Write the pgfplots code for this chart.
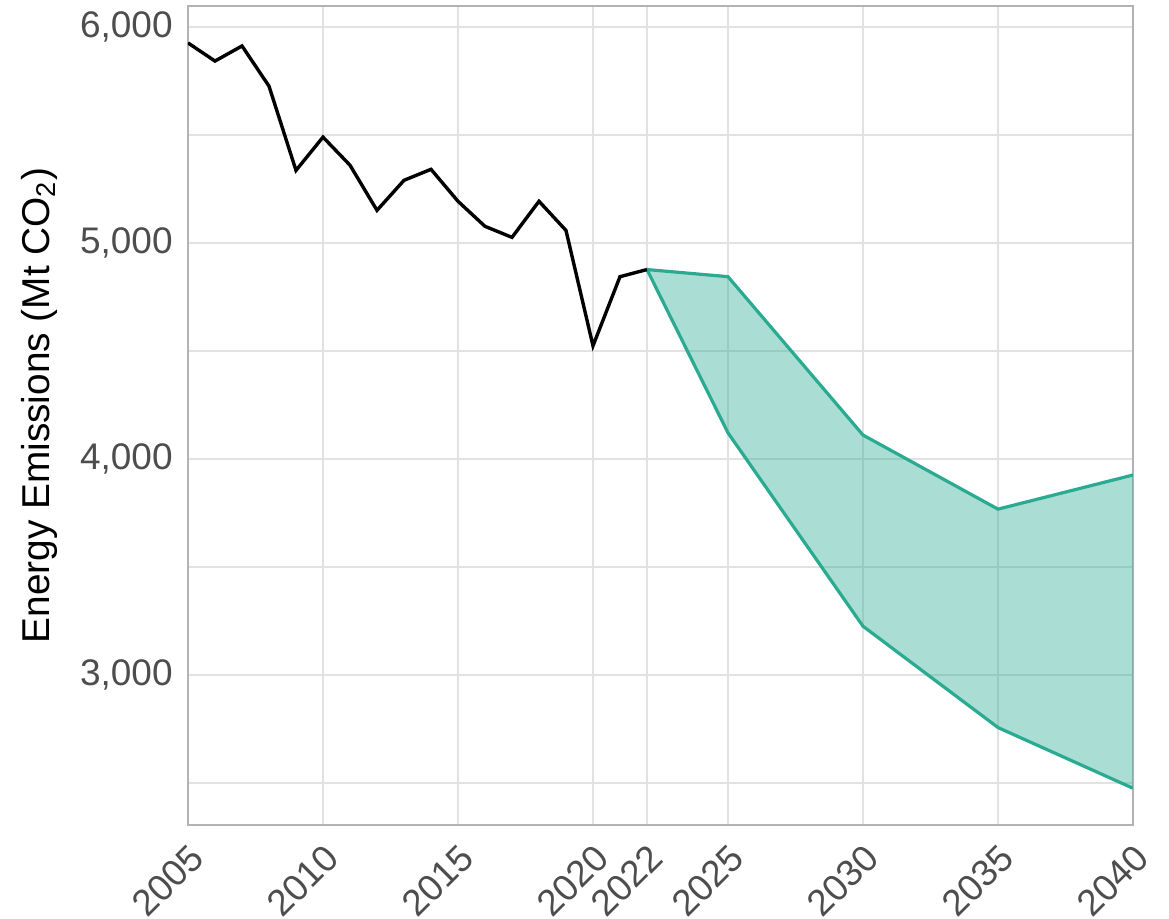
\documentclass[border=0pt]{standalone}
\usepackage{pgfplots}
\pgfplotsset{compat=1.18}
\usepackage{fontspec}
\setmainfont{Liberation Sans}
\definecolor{teal1}{RGB}{43,170,146}
\definecolor{tickgrey}{RGB}{77,77,77}
\definecolor{framegrey}{RGB}{179,179,179}
\definecolor{gridgrey}{RGB}{226,226,226}
\pgfplotstableread{
year val
2005 5926
2006 5842
2007 5912
2008 5726
2009 5336
2010 5490
2011 5360
2012 5151
2013 5290
2014 5341
2015 5193
2016 5077
2017 5026
2018 5193
2019 5058
2020 4524
2021 4844
2022 4877
}\hist
\pgfplotstableread{
year up lo
2022 4877 4877
2025 4844 4121
2030 4111 3226
2035 3768 2757
2040 3926 2476
}\proj
\pgfplotstableread{
year v
2022 4877
2025 4844
2030 4111
2035 3768
2040 3926
2040 2476
2035 2757
2030 3226
2025 4121
2022 4877
}\band
\begin{document}
\begin{tikzpicture}
\useasboundingbox (-94pt,-47pt) rectangle (490.5pt,412.5pt);
\begin{axis}[
  at={(0,0)}, anchor=south west,
  scale only axis, width=472.5pt, height=409.5pt,
  xmin=2005, xmax=2040, ymin=2306, ymax=6097,
  xtick={2005,2010,2015,2020,2022,2025,2030,2035,2040},
  ytick={3000,4000,5000,6000},
  minor ytick={2500,3500,4500,5500},
  xticklabel={\pgfmathprintnumber[1000 sep={}]{\tick}},
  /pgf/number format/assume math mode=true,
  /pgf/number format/1000 sep={,},
  major tick length=0pt, minor tick length=0pt,
  grid=both,
  major grid style={gridgrey, line width=0.9pt},
  minor grid style={gridgrey, line width=0.6pt},
  axis line style={framegrey, line width=1pt},
  tick label style={font=\fontsize{18.5}{22}\selectfont, text=tickgrey},
  xticklabel style={rotate=45, anchor=north east, inner sep=0pt, yshift=-5.8pt, xshift=-6.2pt},
  yticklabel style={inner sep=0pt, xshift=-7.5pt},
  ylabel={Energy Emissions (Mt CO\textsubscript{2})},
  every axis y label/.style={at={(axis description cs:-0.157,0.512)}, rotate=90, anchor=center, font=\fontsize{19.4}{23}\selectfont},
]
\addplot[draw=none, fill=teal1, fill opacity=0.4] table[x=year, y=v] {\band} -- cycle;
\addplot[teal1, line width=1.6pt] table[x=year, y=up] {\proj};
\addplot[teal1, line width=1.6pt] table[x=year, y=lo] {\proj};
\addplot[black, line width=1.7pt] table[x=year, y=val] {\hist};
\end{axis}
\end{tikzpicture}
\end{document}
